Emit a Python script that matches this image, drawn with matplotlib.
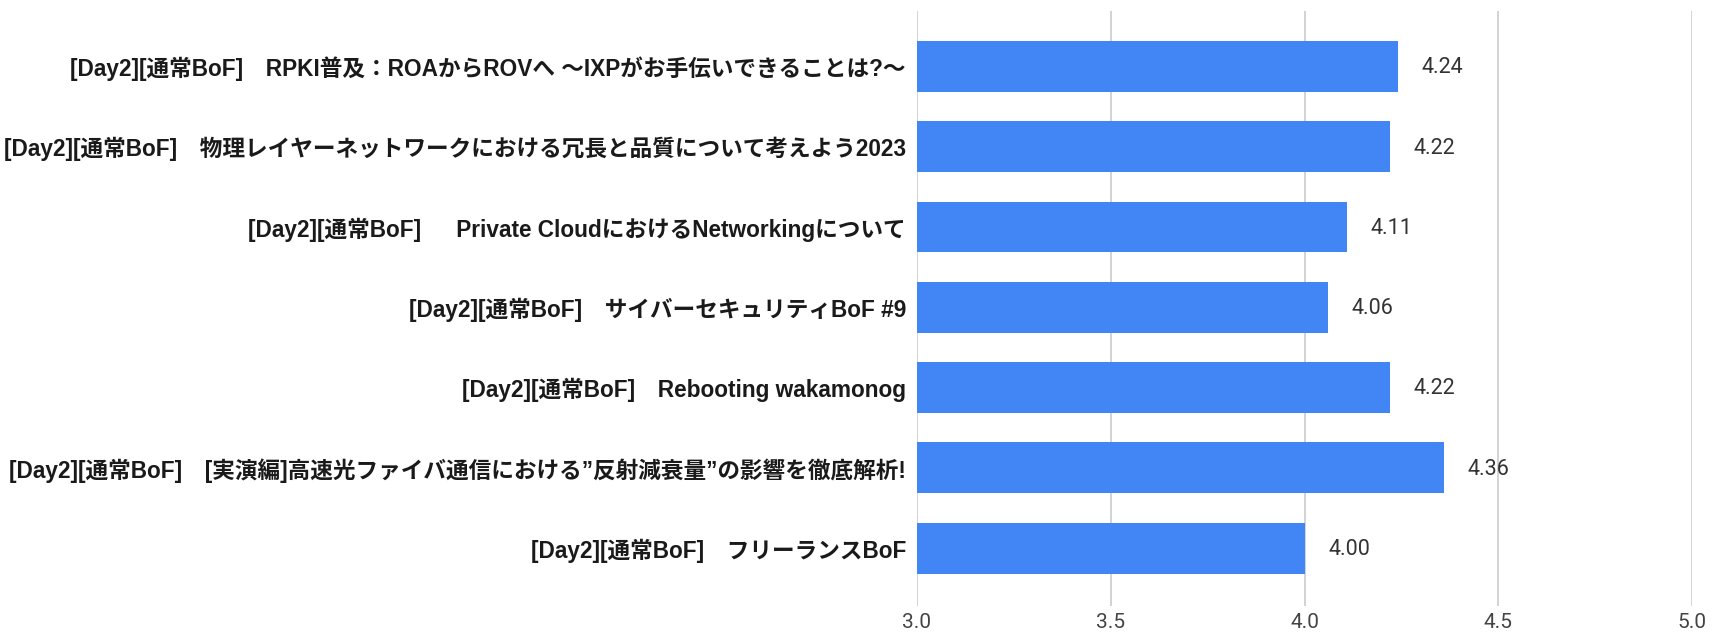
import matplotlib
matplotlib.use("Agg")
import matplotlib.pyplot as plt

# session titles (top to bottom) and their average scores
titles = [
    "[Day2][通常BoF]　RPKI普及：ROAからROVへ ～IXPがお手伝いできることは?～",
    "[Day2][通常BoF]　物理レイヤーネットワークにおける冗長と品質について考えよう2023",
    "[Day2][通常BoF]　  Private CloudにおけるNetworkingについて",
    "[Day2][通常BoF]　サイバーセキュリティBoF #9",
    "[Day2][通常BoF]　Rebooting wakamonog",
    "[Day2][通常BoF]　[実演編]高速光ファイバ通信における”反射減衰量”の影響を徹底解析!",
    "[Day2][通常BoF]　フリーランスBoF",
]
scores = [4.24, 4.22, 4.11, 4.06, 4.22, 4.36, 4.00]
xticks = [3.0, 3.5, 4.0, 4.5, 5.0]

label_font = ["Liberation Sans", "Noto Sans CJK JP", "DejaVu Sans"]
num_font = ["Roboto", "DejaVu Sans"]

fig = plt.figure(figsize=(17.12, 6.35), dpi=100)
ax = fig.add_axes([917 / 1712, 1 - 606 / 635, 775 / 1712, 595 / 635])

ypos = list(range(len(titles)))
ax.barh(ypos, [s - 3.0 for s in scores], left=3.0, height=0.635,
        color="#4285f4", zorder=3)

for y, s in zip(ypos, scores):
    ax.annotate(f"{s:.2f}", xy=(s, y), xytext=(17, -1), textcoords="offset points",
                ha="left", va="center", fontsize=15.5, color="#333333",
                family=num_font)

ax.set_xlim(3.0, 5.0)
ax.set_ylim(len(titles) - 1 + 0.72, -0.69)
ax.set_xticks(xticks)
ax.set_xticklabels([f"{t:.1f}" for t in xticks], family=num_font,
                   fontsize=15, color="#444444")
ax.set_yticks(ypos)
ax.set_yticklabels(titles, family=label_font, fontsize=16.3,
                   fontweight="bold", color="#1a1a1a")
ax.tick_params(axis="both", length=0)
ax.tick_params(axis="x", pad=5)
ax.tick_params(axis="y", pad=8)

ax.grid(axis="x", color="#cccccc", linewidth=1.2, zorder=0)
for side in ["top", "right", "left", "bottom"]:
    ax.spines[side].set_visible(False)

fig.savefig("out.png", dpi=100, facecolor="white")
